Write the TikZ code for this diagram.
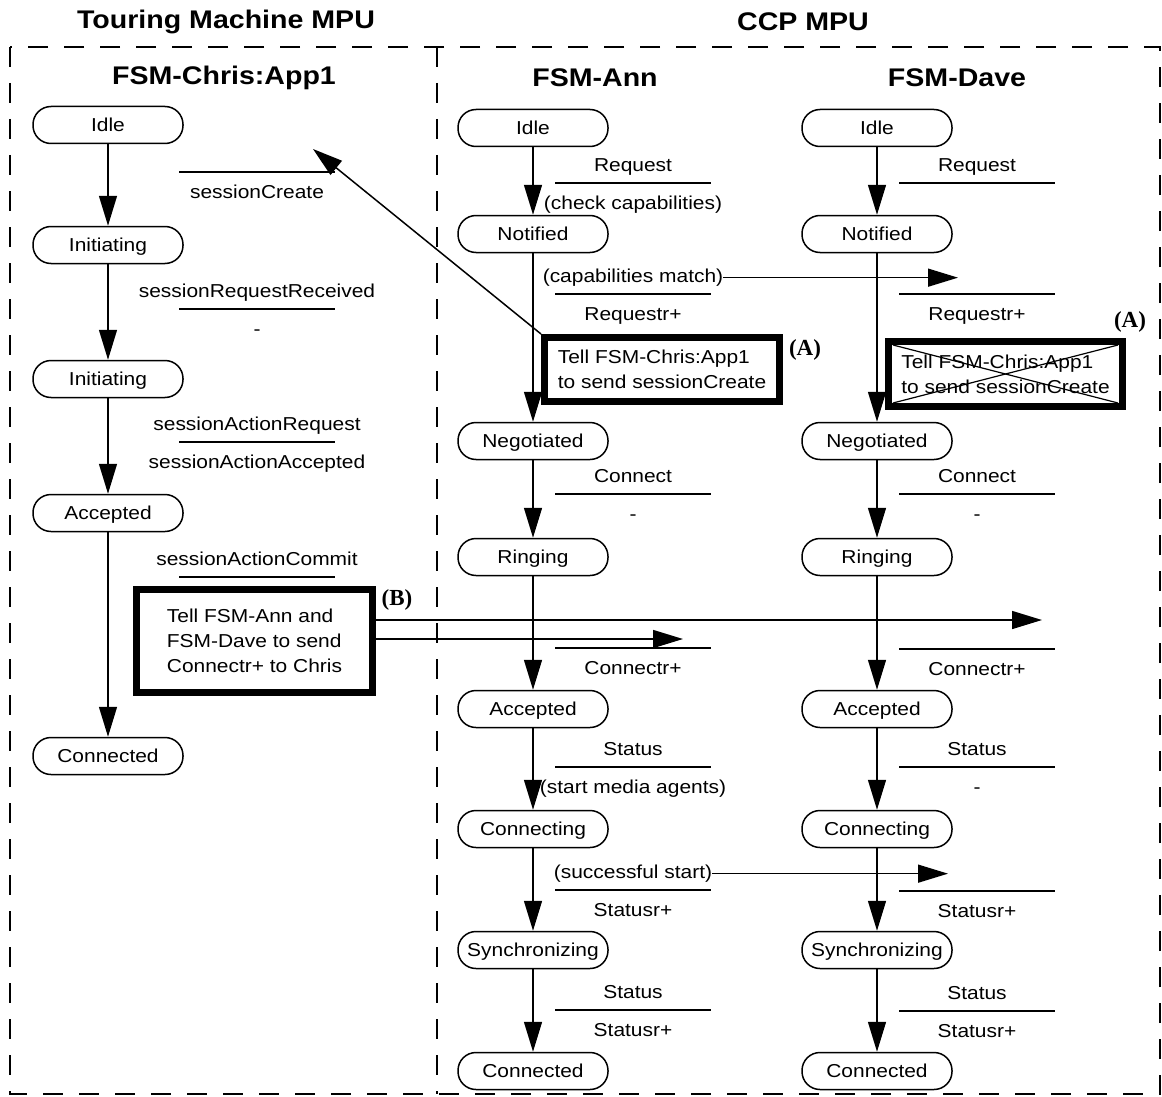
\documentclass[tikz,border=0pt]{standalone}
\usepackage{fontspec}
\setmainfont{Liberation Sans}[FakeStretch=1.12]
\newfontfamily\tagserif{Liberation Serif}
\usetikzlibrary{arrows.meta}
\newcommand{\lblfont}{\fontsize{18.7}{25}\selectfont}
\newcommand{\headfont}{\fontsize{25.5}{30}\selectfont\bfseries}
\tikzset{
  fsmstate/.style={draw=black, line width=1.5pt, rounded corners=18pt,
    minimum width=150pt, minimum height=37pt, inner sep=0pt,
    text height=16pt, text depth=2.6pt, font=\lblfont}
}
\newcommand{\fsmguard}[5]{%
  \coordinate (#1) at (#2,#3);
  \draw[guardrule] ([xshift=-78pt]#1) -- ([xshift=78pt]#1);
  \node[guardtext, yshift=11.5pt] (#1-ev) at (#1) {#4};
  \node[guardtext, yshift=-26.5pt] (#1-act) at (#1) {#5};
}

\begin{document}
\begin{tikzpicture}[x=1pt,y=-1pt]

  % --- styles ---
  \tikzset{
    guardrule/.style={draw=black, line width=1.4pt},
    guardtext/.style={font=\lblfont, inner sep=0pt, anchor=base},
    trans/.style={draw=black, line width=1.5pt, -{Triangle[length=30pt,width=18pt]}},
    tellbox/.style={draw=black, line width=7pt, align=left, font=\lblfont, inner sep=0pt},
    mpuframe/.style={draw=black, line width=1.6pt, dash pattern=on 20pt off 16pt},
    boxtag/.style={font=\tagserif\bfseries\fontsize{23}{23}\selectfont, inner sep=0pt},
    heading/.style={font=\headfont, inner sep=0pt},
    crossout/.style={draw=black, line width=1.2pt},
  }

  \useasboundingbox (0,0) rectangle (1162,1097);

  % --- frames & headings ---
  \draw[mpuframe] (10,47) rectangle (1160,1094);
  \draw[mpuframe] (437,47) -- (437,1094);

  \node[heading] (tm-head) at (226,22) {Touring Machine MPU};
  \node[heading] (ccp-head) at (803,22) {CCP MPU};
  \node[heading] (chris-head) at (224,78) {FSM-Chris:App1};
  \node[heading] (ann-head) at (595,78) {FSM-Ann};
  \node[heading] (dave-head) at (957,78) {FSM-Dave};

  % =========================
  %  STATES
  % =========================

  \node[fsmstate] (chris-idle) at (108,125) {Idle};
  \node[fsmstate] (chris-init) at (108,245) {Initiating};
  \node[fsmstate] (chris-init2) at (108,379) {Initiating};
  \node[fsmstate] (chris-acc) at (108,513) {Accepted};
  \node[fsmstate] (chris-done) at (108,756) {Connected};

  \foreach \s/\y/\t in {idle/128/Idle, notif/234/Notified, neg/441/Negotiated,
      ring/557/Ringing, acc/709/Accepted, conn/829/Connecting,
      sync/950/Synchronizing, done/1071/Connected}{
    \node[fsmstate] (ann-\s) at (533,\y) {\t};
    \node[fsmstate] (dave-\s) at (877,\y) {\t};
  }

  % =========================
  %  TELL BOXES
  % =========================

  \node[tellbox, minimum width=235pt, minimum height=64pt] (tellA-ann)
    at (662,369.5) {Tell FSM-Chris:App1\\to send sessionCreate};
  \node[tellbox, minimum width=234pt, minimum height=65pt] (tellA-dave)
    at (1005.5,374) {Tell FSM-Chris:App1\\to send sessionCreate};
  \node[tellbox, minimum width=236pt, minimum height=103pt] (tellB)
    at (254.5,641) {Tell FSM-Ann and\\FSM-Dave to send\\Connectr+ to Chris};

  \draw[crossout] ([shift={(8pt,-7pt)}]tellA-dave.north west) -- ([shift={(-8pt,7pt)}]tellA-dave.south east);
  \draw[crossout] ([shift={(8pt,7pt)}]tellA-dave.south west) -- ([shift={(-8pt,-7pt)}]tellA-dave.north east);

  \node[boxtag] (tagA-ann) at (805,350) {(A)};
  \node[boxtag] (tagA-dave) at (1130,322) {(A)};
  \node[boxtag] (tagB) at (397,600) {(B)};

  % =========================
  %  GUARDS
  % =========================

  \fsmguard{chris-g-create}{257}{172}{}{sessionCreate}
  \fsmguard{chris-g-recv}{257}{309}{sessionRequestReceived}{-}
  \fsmguard{chris-g-actreq}{257}{442}{sessionActionRequest}{sessionActionAccepted}
  \fsmguard{chris-g-commit}{257}{577}{sessionActionCommit}{}

  \fsmguard{ann-g-req}{633}{183}{Request}{(check capabilities)}
  \fsmguard{ann-g-match}{633}{294}{(capabilities match)}{Requestr+}
  \fsmguard{ann-g-connect}{633}{494}{Connect}{-}
  \fsmguard{ann-g-ring}{633}{648}{}{Connectr+}
  \fsmguard{ann-g-status}{633}{767}{Status}{(start media agents)}
  \fsmguard{ann-g-start}{633}{890}{(successful start)}{Statusr+}
  \fsmguard{ann-g-sync}{633}{1010}{Status}{Statusr+}

  \fsmguard{dave-g-req}{977}{183}{Request}{}
  \fsmguard{dave-g-match}{977}{294}{}{Requestr+}
  \fsmguard{dave-g-connect}{977}{494}{Connect}{-}
  \fsmguard{dave-g-ring}{977}{649}{}{Connectr+}
  \fsmguard{dave-g-status}{977}{767}{Status}{-}
  \fsmguard{dave-g-start}{977}{891}{}{Statusr+}
  \fsmguard{dave-g-sync}{977}{1011}{Status}{Statusr+}

  % =========================
  %  TRANSITIONS
  % =========================

  \foreach \a/\b in {idle/init, init/init2, init2/acc, acc/done}
    \draw[trans] (chris-\a) -- (chris-\b);

  \foreach \a/\b in {idle/notif, notif/neg, neg/ring, ring/acc, acc/conn, conn/sync, sync/done}{
    \draw[trans] (ann-\a) -- (ann-\b);
    \draw[trans] (dave-\a) -- (dave-\b);
  }

  % --- messages ---
  \coordinate (chris-slot) at (313,149);
  \draw[trans] (tellA-ann.north west) -- (chris-slot);

  \coordinate (dave-match-tip) at (958,0);
  \draw[trans] (ann-g-match-ev.east) -- (ann-g-match-ev.east -| dave-match-tip);
  \coordinate (dave-start-tip) at (948,0);
  \draw[trans] (ann-g-start-ev.east) -- (ann-g-start-ev.east -| dave-start-tip);

  \coordinate (dave-ring-tip) at (1042,620);
  \coordinate (ann-ring-tip) at (683,639);
  \draw[trans] (tellB.east |- dave-ring-tip) -- (dave-ring-tip);
  \draw[trans] (tellB.east |- ann-ring-tip) -- (ann-ring-tip);

\end{tikzpicture}
\end{document}
